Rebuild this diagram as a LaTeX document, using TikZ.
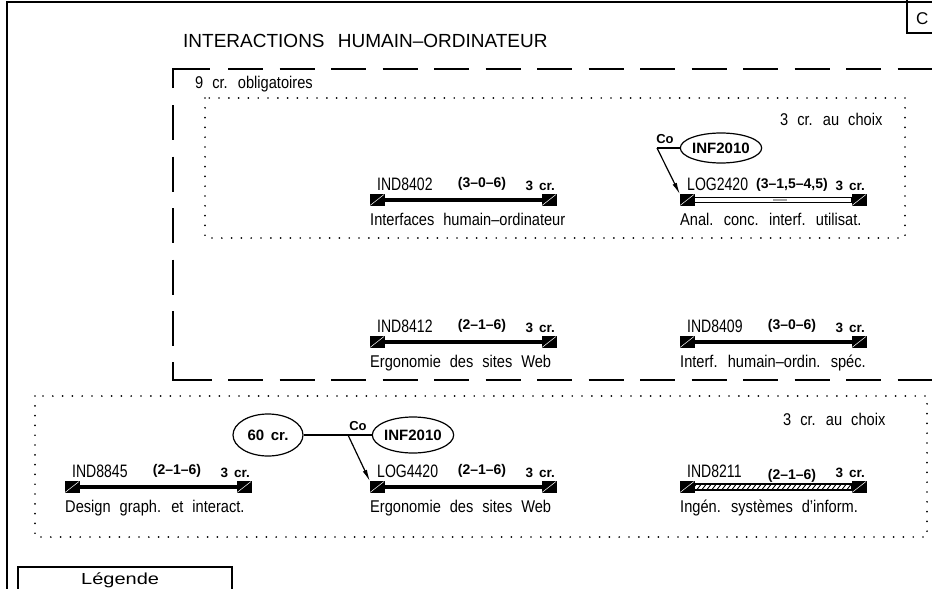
\documentclass[tikz,border=0pt]{standalone}
\usepackage{fontspec}
\setmainfont{Liberation Sans}
\newfontfamily\codef[FakeStretch=0.78]{Liberation Sans}
\newfontfamily\titf[FakeStretch=0.86,WordSpace=2.2]{Liberation Sans}
\newfontfamily\bigf[WordSpace=2.5]{Liberation Sans}
\newfontfamily\legf[FakeStretch=1.25]{Liberation Sans}
\newfontfamily\boldf[WordSpace=1.6]{Liberation Sans Bold}
\usetikzlibrary{shapes.geometric,arrows.meta}
\tikzset{
  sq/.style={fill=black,draw=black,minimum width=14pt,minimum height=11pt,inner sep=0pt,outer sep=0pt},
  diag/.style={white,line width=0.5pt},
  barl/.style={line width=4pt},
  codet/.style={font=\codef\fontsize{18}{18}\selectfont,inner sep=0pt,anchor=base west},
  hrs/.style={font=\boldf\fontsize{14}{14}\selectfont,inner sep=0pt},
  crt/.style={font=\boldf\fontsize{13.5}{14}\selectfont,inner sep=0pt,anchor=base east},
  titt/.style={font=\titf\fontsize{17}{17}\selectfont,inner sep=0pt,anchor=base west},
  ell/.style={ellipse,draw,line width=1.2pt,inner sep=0pt,font=\boldf\fontsize{15}{15}\selectfont},
  cot/.style={font=\boldf\fontsize{13}{13}\selectfont,inner sep=0pt},
  conn/.style={line width=1.2pt},
  arr/.style={line width=1.2pt,-{Latex[length=12pt,width=4.5pt]}},
  dotbox/.style={line width=1.9pt,line cap=round,dash pattern=on 0pt off 9.8pt},
  dashl/.style={line width=1.8pt,dash pattern=on 35pt off 16.5pt},
  solidl/.style={line width=1.8pt},
  frame/.style={line width=2pt},
}
\newcommand\crs[7]{%
  \node[sq] (#1-L) at ({#2+7},#3) {};
  \node[sq] (#1-R) at ({#2+179},#3) {};
  \draw[diag] (#1-L.south west) -- (#1-L.north east);
  \draw[diag] (#1-R.south west) -- (#1-R.north east);
  \node[codet] (#1-code) at ({#2+7},{#3-10}) {#4};
  \node[hrs] (#1-hrs) at ({#2+112},{#3-16+#7}) {#5};
  \node[crt] (#1-cr) at ({#2+185},{#3-10}) {3 cr.};
  \node[titt] (#1-tit) at (#2,{#3+25}) {#6};
}
\newcommand\barplain[1]{\draw[barl] (#1-L.east) -- (#1-R.west);}
\begin{document}
\begin{tikzpicture}[x=1pt,y=-1pt]
\useasboundingbox (0,0) rectangle (932,589);
\fill[white] (0,0) rectangle (932,589);
\clip (0,0) rectangle (932,589);
% outer frame
\draw[frame] (7,600) -- (7,1.5) -- (940,1.5);
\draw[line width=1.2pt] (907,0) -- (907,33) -- (940,33);
\node[font=\fontsize{17}{17}\selectfont,inner sep=0pt,anchor=base west] (cmark) at (916,24) {C};
% title
\node[font=\bigf\fontsize{19}{19}\selectfont,inner sep=0pt,anchor=base west] (title) at (183,47) {INTERACTIONS HUMAIN–ORDINATEUR};
% dashed obligatory block
\draw[solidl] (173,88) -- (173,69) -- (210,69);
\draw[dashl] (228,69) -- (945,69);
\draw[dashl] (173,105) -- (173,358);
\draw[solidl] (173,362) -- (173,380) -- (212,380);
\draw[dashl] (228,380) -- (945,380);
\node[titt] (oblig) at (195,88) {9 cr. obligatoires};
% dotted boxes
\draw[dotbox] (205,98) rectangle (905,238);
\draw[dotbox] (35,396) rectangle (927,537);
\node[titt] (choix1) at (780,125) {3 cr. au choix};
\node[titt] (choix2) at (783,425) {3 cr. au choix};
% courses
\crs{ind8402}{370}{200}{IND8402}{(3–0–6)}{Interfaces humain–ordinateur}{0}
\barplain{ind8402}
\crs{log2420}{680}{200}{LOG2420}{(3–1,5–4,5)}{Anal. conc. interf. utilisat.}{1}
\draw[line width=1.1pt,fill=white] ([yshift=2.6pt]log2420-L.east) rectangle ([yshift=-2.6pt]log2420-R.west);
\draw[line width=1.4pt,black!35] (773,200) -- (787,200);
\crs{ind8412}{370}{342}{IND8412}{(2–1–6)}{Ergonomie des sites Web}{0}
\barplain{ind8412}
\crs{ind8409}{680}{342}{IND8409}{(3–0–6)}{Interf. humain–ordin. spéc.}{0}
\barplain{ind8409}
\crs{ind8845}{65}{487}{IND8845}{(2–1–6)}{Design graph. et interact.}{0}
\barplain{ind8845}
\crs{log4420}{370}{487}{LOG4420}{(2–1–6)}{Ergonomie des sites Web}{0}
\barplain{log4420}
\crs{ind8211}{680}{487}{IND8211}{(2–1–6)}{Ingén. systèmes d’inform.}{5}
\begin{scope}
  \clip ([yshift=3pt]ind8211-L.east) rectangle ([yshift=-3pt]ind8211-R.west);
  \foreach \x in {685,690,...,860} \draw[line width=0.9pt] (\x,492) -- ++(8,-10);
\end{scope}
\draw[line width=1.1pt] ([yshift=3pt]ind8211-L.east) rectangle ([yshift=-3pt]ind8211-R.west);
% prerequisites top
\node[ell,minimum width=65pt,minimum height=30pt] (inf1) at (721,148) {INF2010};
\coordinate (co1) at (657,148);
\node[cot] (co1t) at (665,139) {Co};
\draw[conn] (co1) -- (inf1.west);
\draw[arr] (co1) -- (log2420-L.north west);
% prerequisites bottom
\node[ell,minimum width=70pt,minimum height=42pt] (c60) at (268,435) {60 cr.};
\node[ell,minimum width=73pt,minimum height=36pt] (inf2) at (413,435) {INF2010};
\coordinate (co2) at (348,435);
\node[cot] (co2t) at (358,426) {Co};
\draw[conn] (c60.east) -- (inf2.west);
\draw[arr] (co2) -- (log4420-L.north west);
% legend
\draw[line width=1.2pt] (18,600) -- (18,567) -- (232,567) -- (232,600);
\node[font=\legf\fontsize{16}{16}\selectfont,inner sep=0pt,anchor=base west] (leg) at (81,584) {Légende};
\end{tikzpicture}
\end{document}
